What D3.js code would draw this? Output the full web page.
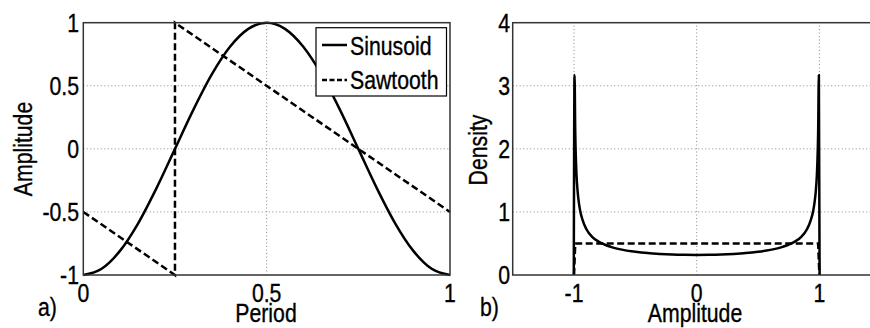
<!DOCTYPE html>
<html>
<head>
<meta charset="utf-8">
<script src="https://cdn.jsdelivr.net/npm/d3@7"></script>
<style>
  html, body { margin: 0; padding: 0; background: #fff; }
  svg { display: block; }
  text { font-family: "Liberation Sans", Arial, Helvetica, sans-serif; font-size: 25px; fill: #000;
         stroke: #000; stroke-width: 0.35px; }
</style>
</head>
<body>
<svg id="chart" width="870" height="328"></svg>
<script>
// ---------- data ----------
// Panel a) : one period of each waveform
const periodT = [0, 0.05, 0.1, 0.15, 0.2, 0.25, 0.3, 0.35, 0.4, 0.45, 0.5,
                 0.55, 0.6, 0.65, 0.7, 0.75, 0.8, 0.85, 0.9, 0.95, 1];
const sinusoidAmp = [-1, -0.951, -0.809, -0.588, -0.309, 0, 0.309, 0.588, 0.809, 0.951, 1,
                     0.951, 0.809, 0.588, 0.309, 0, -0.309, -0.588, -0.809, -0.951, -1];
const sawT = [0, 0.25, 0.25, 1];
const sawAmp = [-0.5, -1, 1, -0.5];

// Panel b) : amplitude densities
const densX = [-1.002, -0.996, -0.99, -0.98, -0.97, -0.96, -0.95, -0.93, -0.9, -0.85, -0.8,
               -0.7, -0.6, -0.5, -0.4, -0.3, -0.2, -0.1, 0,
               0.1, 0.2, 0.3, 0.4, 0.5, 0.6, 0.7,
               0.8, 0.85, 0.9, 0.93, 0.95, 0.96, 0.97, 0.98, 0.99, 0.996, 1.002];
const sinDensity = [0, 3.17, 2.26, 1.60, 1.31, 1.14, 1.02, 0.87, 0.73, 0.60, 0.53,
                    0.446, 0.398, 0.368, 0.347, 0.334, 0.325, 0.320, 0.318,
                    0.320, 0.325, 0.334, 0.347, 0.368, 0.398, 0.446,
                    0.53, 0.60, 0.73, 0.87, 1.02, 1.14, 1.31, 1.60, 2.26, 3.17, 0];
const sawDensX = [-1.0, -0.99, 0.99, 1.0];
const sawDensity = [0, 0.5, 0.5, 0];

// ticks
const aXTicks = [0, 0.5, 1];
const aXTickLabels = ["0", "0.5", "1"];
const aYTicks = [-1, -0.5, 0, 0.5, 1];
const aYTickLabels = ["-1", "-0.5", "0", "0.5", "1"];
const bXTicks = [-1, 0, 1];
const bXTickLabels = ["-1", "0", "1"];
const bYTicks = [0, 1, 2, 3, 4];
const bYTickLabels = ["0", "1", "2", "3", "4"];
const seriesNames = ["Sinusoid", "Sawtooth"];

// ---------- drawing ----------
const svg = d3.select("#chart");
const SX = 0.85; // horizontal squeeze of the glyphs
const LW = 2.5;
const DASH = "7,3.5";

function txt(x, y, s, anchor, rot) {
  return svg.append("text")
    .attr("transform", `translate(${x},${y}) rotate(${rot || 0}) scale(${SX},1)`)
    .attr("text-anchor", anchor || "start")
    .text(s);
}

function panel(x, y, xTicks, xLabels, yTicks, yLabels, yLabelX) {
  const [x0, x1] = x.range();
  const [y0, y1] = y.range();
  const g = svg.append("g");
  xTicks.forEach(t => {
    const px = x(t);
    if (Math.abs(px - x0) < 1 || Math.abs(px - x1) < 1) return;
    g.append("line").attr("x1", px).attr("x2", px).attr("y1", y0).attr("y2", y1)
      .attr("stroke", "#8a8a8a").attr("stroke-width", 1).attr("stroke-dasharray", "1,2.5");
  });
  yTicks.forEach(t => {
    const py = y(t);
    if (Math.abs(py - y0) < 1 || Math.abs(py - y1) < 1) return;
    g.append("line").attr("x1", x0).attr("x2", x1).attr("y1", py).attr("y2", py)
      .attr("stroke", "#8a8a8a").attr("stroke-width", 1).attr("stroke-dasharray", "1,2.5");
  });
  xTicks.forEach((t, i) => txt(x(t), y0 + 27, xLabels[i], "middle"));
  yTicks.forEach((t, i) => txt(yLabelX, y(t) + 9, yLabels[i], "end"));
  return g;
}

function frame(x, y) {
  const [x0, x1] = x.range();
  const [y0, y1] = y.range();
  svg.append("rect").attr("x", x0).attr("y", y1).attr("width", x1 - x0).attr("height", y0 - y1)
    .attr("fill", "none").attr("stroke", "#333").attr("stroke-width", 1.5);
}

// ---- panel a ----
const xa = d3.scaleLinear().domain([0, 1]).range([83.3, 450]);
const ya = d3.scaleLinear().domain([-1, 1]).range([275, 22.7]);
panel(xa, ya, aXTicks, aXTickLabels, aYTicks, aYTickLabels, 79);

const sinLine = d3.line().x(d => xa(d[0])).y(d => ya(d[1])).curve(d3.curveMonotoneX);
svg.append("path").datum(periodT.map((t, i) => [t, sinusoidAmp[i]]))
  .attr("d", sinLine).attr("fill", "none").attr("stroke", "#000").attr("stroke-width", LW);

const sawLine = d3.line().x(d => xa(d[0])).y(d => ya(d[1]));
svg.append("path").datum(sawT.map((t, i) => [t, sawAmp[i]]))
  .attr("d", sawLine).attr("fill", "none").attr("stroke", "#000").attr("stroke-width", LW)
  .attr("stroke-dasharray", DASH);
frame(xa, ya);

// legend
svg.append("rect").attr("x", 316).attr("y", 27.7).attr("width", 130.5).attr("height", 68.3)
  .attr("fill", "#fff").attr("stroke", "#000").attr("stroke-width", 1.2);
svg.append("line").attr("x1", 322).attr("x2", 347).attr("y1", 45).attr("y2", 45)
  .attr("stroke", "#000").attr("stroke-width", LW);
svg.append("line").attr("x1", 322).attr("x2", 347).attr("y1", 80).attr("y2", 80)
  .attr("stroke", "#000").attr("stroke-width", LW).attr("stroke-dasharray", "5,2.5");
txt(350, 55, seriesNames[0], "start");
txt(350, 89, seriesNames[1], "start");

// labels a
txt(266, 322, "Period", "middle");
txt(32, 149, "Amplitude", "middle", -90);
txt(38, 316, "a)", "start");

// ---- panel b ----
const xb = d3.scaleLinear().domain([-1.5, 1.5]).range([512.7, 880.7]);
const yb = d3.scaleLinear().domain([0, 4]).range([275, 22.7]);
panel(xb, yb, bXTicks, bXTickLabels, bYTicks, bYTickLabels, 510);

const densLine = d3.line().x(d => xb(d[0])).y(d => yb(d[1])).curve(d3.curveMonotoneX);
svg.append("path").datum(densX.map((t, i) => [t, sinDensity[i]]))
  .attr("d", densLine).attr("fill", "none")
  .attr("stroke", "#000").attr("stroke-width", LW).attr("stroke-linejoin", "round");
svg.append("path").datum(sawDensX.map((t, i) => [t, sawDensity[i]]))
  .attr("d", d3.line().x(d => xb(d[0])).y(d => yb(d[1]))).attr("fill", "none")
  .attr("stroke", "#000").attr("stroke-width", LW).attr("stroke-dasharray", DASH);
frame(xb, yb);

txt(695, 322, "Amplitude", "middle");
txt(487, 150, "Density", "middle", -90);
txt(480, 316, "b)", "start");
</script>
</body>
</html>
